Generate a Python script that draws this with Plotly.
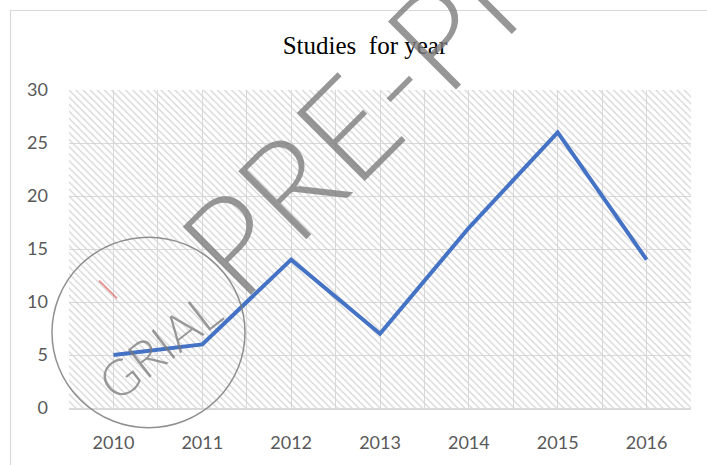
import plotly.graph_objects as go

# ---- data ----
years = [2010, 2011, 2012, 2013, 2014, 2015, 2016]
studies = [5, 6, 14, 7, 17, 26, 14]
y_tick_values = [0, 5, 10, 15, 20, 25, 30]
year_labels = [str(y) for y in years]
title_text = "Studies\u00a0 for year"
watermark_main = "PRE-PRINT"
watermark_stamp = "GRIAL"

W, H = 707, 465
L, R, T, B = 69, 691, 90, 412


def px(x):
    return (x - L) / (R - L)


def py(y):
    return (B - y) / (B - T)


GRID = "#D9D9D9"
TICKFONT = dict(family="Lato, Open Sans, sans-serif", size=18, color="#595959")

fig = go.Figure()

# hatched plot-area background
fig.add_trace(go.Bar(
    x=years, y=[y_tick_values[-1]] * len(years), width=1,
    marker=dict(color="#D4D4D4", line=dict(width=0),
                pattern=dict(shape="\\", size=5, solidity=0.25, fillmode="replace")),
    hoverinfo="skip", showlegend=False,
))

fig.add_trace(go.Scatter(
    x=years, y=studies, mode="lines",
    line=dict(color="#4472C4", width=4),
    showlegend=False,
))

fig.update_layout(
    width=W, height=H,
    margin=dict(l=L, r=W - R, t=T, b=H - B),
    paper_bgcolor="white", plot_bgcolor="white",
    showlegend=False,
    title=dict(text=title_text, x=365 / W, xref="container", xanchor="center",
               y=1 - 45 / H, yref="container", yanchor="middle",
               font=dict(family="Liberation Serif, serif", size=25, color="black")),
    xaxis=dict(range=[years[0] - 0.5, years[-1] + 0.5], tickmode="array",
               tickvals=years, ticktext=year_labels, tickfont=TICKFONT,
               showgrid=True, gridcolor=GRID, gridwidth=1.3, zeroline=False,
               ticks="", ticklabelstandoff=18,
               showline=True, linecolor=GRID, linewidth=1.6,
               minor=dict(tickmode="linear", tick0=years[0] - 0.5, dtick=1,
                          showgrid=True, gridcolor=GRID, gridwidth=1.3, ticks="")),
    yaxis=dict(range=[0, 30], tickmode="array", tickvals=y_tick_values,
               tickfont=TICKFONT, showgrid=True, gridcolor=GRID, gridwidth=1.3,
               zeroline=False, ticks="", ticklabelstandoff=20),
    shapes=[
        dict(type="rect", xref="paper", yref="paper",
             x0=px(10.5), x1=px(730), y0=py(490), y1=py(9.5),
             line=dict(color=GRID, width=1.2), layer="below"),
        dict(type="circle", xref="paper", yref="paper",
             x0=px(52), x1=px(245), y0=py(432), y1=py(239),
             line=dict(color="rgba(125,125,125,0.85)", width=1.5)),
        dict(type="line", xref="paper", yref="paper",
             x0=px(99), y0=py(283), x1=px(117), y1=py(301),
             line=dict(color="rgba(225,110,110,0.75)", width=2)),
    ],
    annotations=[
        dict(text=watermark_main, xref="paper", yref="paper",
             x=px(440), y=py(31), xanchor="center", yanchor="middle",
             showarrow=False, textangle=-45,
             font=dict(family="Lato, Open Sans, sans-serif", size=136,
                       color="rgba(125,125,125,0.8)", weight=300)),
        dict(text=watermark_stamp, xref="paper", yref="paper",
             x=px(159), y=py(349), xanchor="center", yanchor="middle",
             showarrow=False, textangle=-38,
             font=dict(family="Lato, Open Sans, sans-serif", size=50,
                       color="rgba(120,120,120,0.75)", weight=300)),
    ],
)

fig.write_html("out.html", config={"displayModeBar": False},
               post_script="document.body.style.margin='0';document.body.style.padding='0';")
